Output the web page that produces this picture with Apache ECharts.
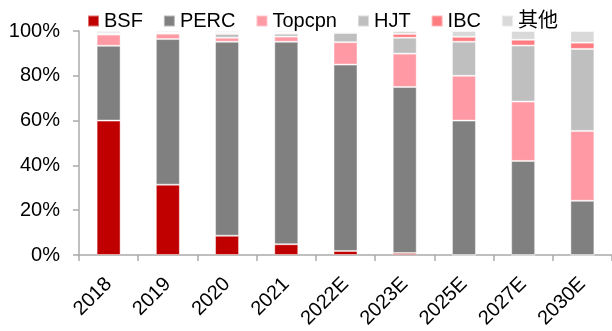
<!DOCTYPE html>
<html>
<head>
<meta charset="utf-8">
<script src="https://cdn.jsdelivr.net/npm/echarts@6/dist/echarts.min.js"></script>
<style>
  html, body { margin: 0; padding: 0; background: #fff; }
  #chart { width: 612px; height: 331px; }
</style>
</head>
<body>
<div id="chart"></div>
<script>
// Cell technology market share (%) by year
const categories = ['2018', '2019', '2020', '2021', '2022E', '2023E', '2025E', '2027E', '2030E'];
const bsf    = [60,   31.4, 8.6,  4.8,  1.8,  0.9,  0,    0,    0];
const perc   = [33.4, 65,   86.6, 90.4, 83.2, 74.1, 60,   42,   24.2];
const topcpn = [5,    2.4,  1.8,  2.3,  10,   14.9, 20,   26.5, 31.2];
const hjt    = [0.6,  0.5,  1.7,  1.3,  4.1,  7.1,  15.2, 25,   36.6];
const ibc    = [0,    0,    0.5,  0.5,  0.5,  1.7,  2.2,  2.6,  2.8];
const other  = [1,    0.7,  0.8,  0.7,  0.4,  1.3,  2.6,  3.9,  5.2];
const yTicks = [0, 20, 40, 60, 80, 100];

const seriesDefs = [
  { name: 'BSF',    data: bsf,    color: '#C00000' },
  { name: 'PERC',   data: perc,   color: '#808080' },
  { name: 'Topcpn', data: topcpn, color: '#FF99A4' },
  { name: 'HJT',    data: hjt,    color: '#BFBFBF' },
  { name: 'IBC',    data: ibc,    color: '#FF7C80' },
  { name: '其他',   data: other,  color: '#D9D9D9' }
];

const font = 'Arial, "Liberation Sans", "Noto Sans CJK SC", sans-serif';
const axisColor = '#ABABAB';

const chart = echarts.init(document.getElementById('chart'), null, { renderer: 'canvas' });
chart.setOption({
  animation: false,
  backgroundColor: '#fff',
  textStyle: { fontFamily: font },
  legend: {
    left: 82,
    top: 6,
    itemWidth: 11,
    itemHeight: 11,
    itemGap: 20,
    icon: 'rect',
    textStyle: { fontSize: 20, color: '#000', fontFamily: font },
    data: seriesDefs.map(s => s.name)
  },
  grid: { left: 79, right: 0, top: 31, bottom: 76, containLabel: false, outerBoundsMode: 'none' },
  xAxis: {
    type: 'category',
    data: categories,
    axisLine: { lineStyle: { color: axisColor, width: 1.5 } },
    axisTick: { show: true, alignWithLabel: false, length: 6, lineStyle: { color: axisColor, width: 1.5 } },
    axisLabel: { rotate: 45, fontSize: 20, color: '#000', fontFamily: font, margin: 26, interval: 0 }
  },
  yAxis: {
    type: 'value',
    min: yTicks[0],
    max: yTicks[yTicks.length - 1],
    interval: 20,
    splitLine: { show: false },
    axisLine: { show: true, lineStyle: { color: axisColor, width: 1.5 } },
    axisTick: { show: true, length: 6, lineStyle: { color: axisColor, width: 1.5 } },
    axisLabel: { fontSize: 20, color: '#000', fontFamily: font, margin: 19, formatter: '{value}%' }
  },
  series: seriesDefs.map(s => ({
    name: s.name,
    type: 'bar',
    stack: 'share',
    barWidth: 24,
    data: s.data,
    itemStyle: { color: s.color, borderColor: 'rgba(255,255,255,0.45)', borderWidth: 1 }
  }))
});
</script>
</body>
</html>
